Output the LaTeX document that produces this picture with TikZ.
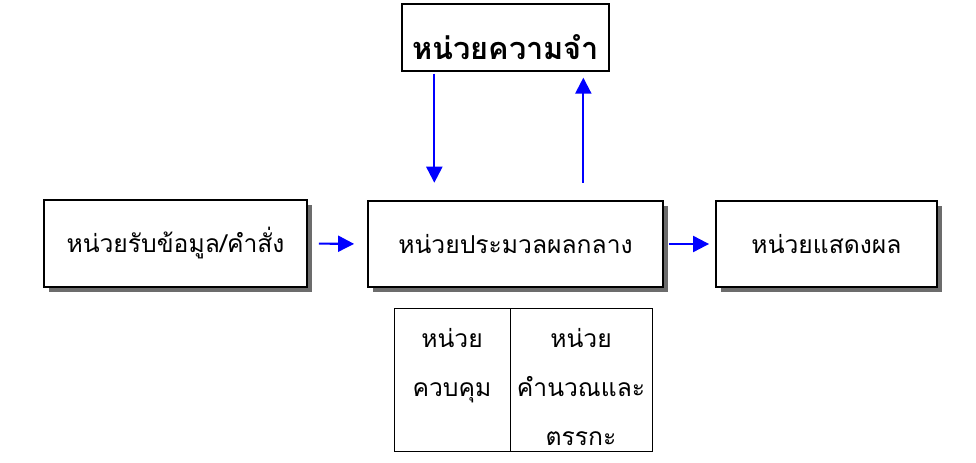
\documentclass[tikz,border=0pt]{standalone}
\usepackage{fontspec}
\newfontfamily\thai[Script=Thai]{Loma}
\usetikzlibrary{arrows.meta,shadows}
\begin{document}
\begin{tikzpicture}[x=0.75pt,y=-0.75pt,
  unit/.style={draw=black,line width=1.4pt,fill=white,inner sep=0pt,
    minimum height=65pt,font=\thai\fontsize{18.5}{20}\selectfont,
    drop shadow={shadow xshift=3.75pt,shadow yshift=-3.75pt,fill=gray!85!black,opacity=1}},
  memunit/.style={draw=black,line width=1pt,fill=white,inner sep=0pt,
    minimum width=155.25pt,minimum height=50.25pt,font=\thai\bfseries\fontsize{23}{25}\selectfont},
  subunit/.style={draw=black,line width=0.75pt,inner sep=0pt,minimum height=107.25pt},
  subtext/.style={font=\thai\fontsize{18.5}{36.75}\selectfont,align=center,anchor=north,inner sep=0pt},
  arr/.style={draw=blue,line width=1.6pt,-{Triangle[width=12pt,length=12pt]}}]
\useasboundingbox (0,0) rectangle (976,463);
\node[memunit] (mem) at (505.5,37.5) {\raisebox{0pt}[33pt][0pt]{หน่วยความจำ}};
\node[unit,minimum width=197.25pt] (in) at (175.5,243.5) {หน่วยรับข้อมูล/คำสั่ง};
\node[unit,minimum width=221.25pt] (cpu) at (515.5,244) {หน่วยประมวลผลกลาง};
\node[unit,minimum width=165.75pt] (out) at (826.5,244) {หน่วยแสดงผล};
\node[subunit,minimum width=87pt] (cu) at (452,380.5) {};
\node[subunit,minimum width=106.5pt] (alu) at (581,380.5) {};
\node[subtext] (cut) at ([yshift=-15pt]cu.north) {หน่วย\\ควบคุม};
\node[subtext] (alut) at ([yshift=-15pt]alu.north) {หน่วย\\คำนวณและ\\ตรรกะ};
\coordinate (m1) at ([xshift=24.75pt]mem.south west);
\coordinate (m2) at ([xshift=136.5pt]mem.south west);
\draw[arr,shorten <=1.5pt,shorten >=12.75pt] (m1) -- (m1 |- cpu.north);
\draw[arr,shorten <=12.75pt,shorten >=4.5pt] (m2 |- cpu.north) -- (m2);
\draw[arr,shorten <=8.25pt,shorten >=9.75pt] (in.east) -- (cpu.west);
\draw[arr,shorten <=3.75pt,shorten >=4.5pt] (cpu.east) -- (out.west);
\end{tikzpicture}
\end{document}
